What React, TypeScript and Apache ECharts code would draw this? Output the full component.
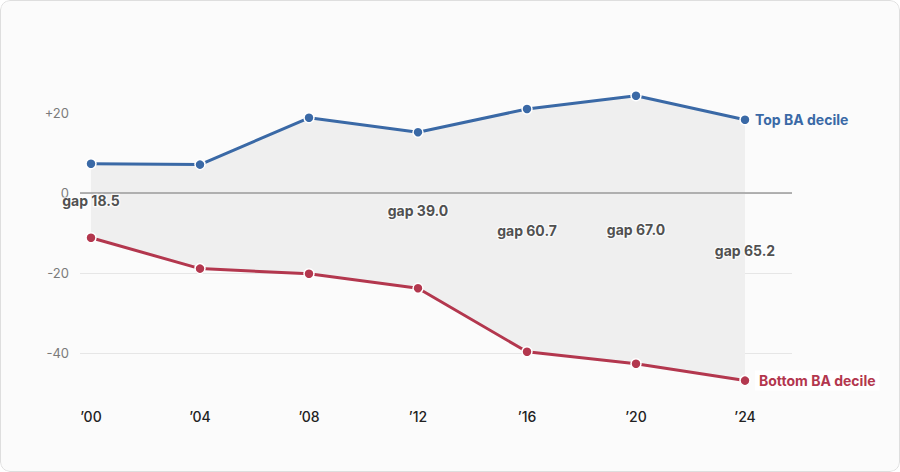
import React, { useEffect, useRef } from "react";
import * as echarts from "echarts";

const years = ["\u201900", "\u201904", "\u201908", "\u201912", "\u201916", "\u201920", "\u201924"];
const topDecile = [7.3, 7.1, 18.8, 15.2, 21.0, 24.3, 18.3];
const bottomDecile = [-11.2, -18.9, -20.2, -23.8, -39.7, -42.7, -46.9];
const gapIndex = [0, 3, 4, 5, 6];
const gapText = ["18.5", "39.0", "60.7", "67.0", "65.2"];
const yTicks = [-40, -20, 0, 20];

const BLUE = "#3a69a6";
const RED = "#b3374e";

export default function App() {
  const ref = useRef<HTMLDivElement>(null);
  useEffect(() => {
    document.body.style.margin = "0";
    const chart = echarts.init(ref.current!, null, { renderer: "svg" });
    const diff = topDecile.map((v, i) => v - bottomDecile[i]);
    const mids = gapIndex.map((i, k) => ({
      value: [i, (topDecile[i] + bottomDecile[i]) / 2],
      gap: gapText[k],
    }));
    const font = "Inter, 'Noto Sans', sans-serif";
    const yMin = -50, yMax = 30;
    const top = 73, bottom = 79;
    chart.setOption({
      animation: false,
      backgroundColor: "transparent",
      textStyle: { fontFamily: font },
      grid: [
        { left: 80, right: 108, top, bottom },
        { left: 91, right: 155, top, bottom },
      ],
      xAxis: [
        { type: "value", gridIndex: 0, min: 0, max: 1, show: false },
        {
          type: "category",
          gridIndex: 1,
          data: years,
          boundaryGap: false,
          axisLine: { show: false },
          axisTick: { show: false },
          axisLabel: { color: "#222", fontSize: 14, fontWeight: 500, margin: 16, fontFamily: font },
          splitLine: { show: false },
        },
      ],
      yAxis: [
        {
          type: "value",
          gridIndex: 0,
          min: yMin,
          max: yMax,
          interval: 10,
          axisLine: { show: false },
          axisTick: { show: false },
          axisLabel: {
            color: "#7a7a7a",
            fontSize: 13,
            margin: 11,
            fontFamily: font,
            formatter: (v: number) =>
              yTicks.includes(v) ? (v > 0 ? "+" + v : String(v)) : "",
          },
          splitLine: {
            show: true,
            lineStyle: {
              color: [
                "transparent", "#e6e6e6", "transparent", "#e6e6e6", "transparent",
                "#e6e6e6", "transparent", "transparent", "transparent",
              ],
              width: 1,
            },
          },
        },
        { type: "value", gridIndex: 1, min: yMin, max: yMax, show: false },
      ],
      series: [
        {
          type: "line",
          xAxisIndex: 0,
          yAxisIndex: 0,
          data: [[0, 0], [1, 0]],
          symbol: "none",
          silent: true,
          lineStyle: { color: "#9a9a9a", width: 1.5 },
          z: 1,
        },
        {
          type: "line",
          xAxisIndex: 1,
          yAxisIndex: 1,
          data: bottomDecile,
          stack: "band",
          stackStrategy: "all",
          symbol: "none",
          silent: true,
          lineStyle: { opacity: 0 },
          z: 0,
        },
        {
          type: "line",
          xAxisIndex: 1,
          yAxisIndex: 1,
          data: diff,
          stack: "band",
          stackStrategy: "all",
          symbol: "none",
          silent: true,
          lineStyle: { opacity: 0 },
          areaStyle: { color: "#efefef", opacity: 1 },
          z: 0,
        },
        {
          type: "line",
          name: "Top BA decile",
          xAxisIndex: 1,
          yAxisIndex: 1,
          data: topDecile,
          symbol: "circle",
          symbolSize: 10,
          lineStyle: { color: BLUE, width: 3 },
          itemStyle: { color: BLUE, borderColor: "#fff", borderWidth: 1.5 },
          endLabel: {
            show: true,
            formatter: "Top BA decile",
            color: BLUE,
            fontWeight: "bold",
            fontSize: 14,
            distance: 10,
            fontFamily: font,
          },
          z: 5,
        },
        {
          type: "line",
          name: "Bottom BA decile",
          xAxisIndex: 1,
          yAxisIndex: 1,
          data: bottomDecile,
          symbol: "circle",
          symbolSize: 10,
          lineStyle: { color: RED, width: 3 },
          itemStyle: { color: RED, borderColor: "#fff", borderWidth: 1.5 },
          endLabel: {
            show: true,
            formatter: "Bottom BA decile",
            color: RED,
            fontWeight: "bold",
            fontSize: 14,
            distance: 10,
            fontFamily: font,
            backgroundColor: "#ffffff",
            padding: [3, 4],
          },
          z: 5,
        },
        {
          type: "scatter",
          xAxisIndex: 1,
          yAxisIndex: 1,
          data: mids,
          symbolSize: 0,
          silent: true,
          label: {
            show: true,
            position: "inside",
            formatter: (p: any) => "gap " + p.data.gap,
            color: "#222",
            fontWeight: "bold",
            fontSize: 14,
            fontFamily: font,
            textBorderColor: "rgba(255,255,255,0.85)",
            textBorderWidth: 2.5,
          },
          z: 6,
        },
      ],
    });
    return () => chart.dispose();
  }, []);
  return (
    <div style={{ position: "relative", width: 900, height: 472, background: "#fbfbfb", borderRadius: 10, overflow: "hidden" }}>
      <div ref={ref} style={{ position: "absolute", left: 0, top: 0, width: 900, height: 472 }} />
      <div
        style={{
          position: "absolute",
          inset: 0,
          border: "1px solid #dedede",
          borderRadius: 10,
          pointerEvents: "none",
        }}
      />
    </div>
  );
}
